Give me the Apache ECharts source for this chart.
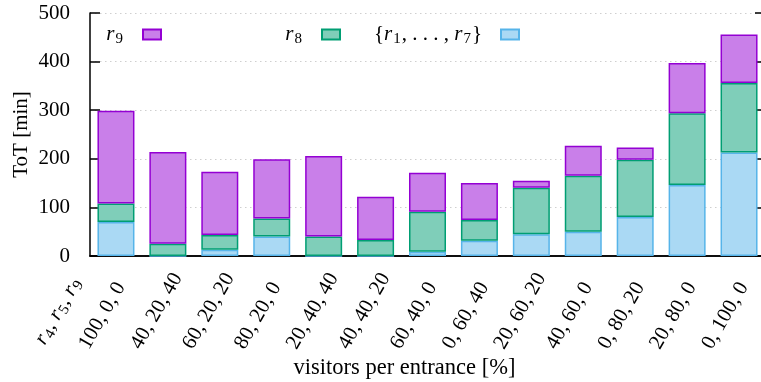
<!DOCTYPE html>
<html>
<head>
<meta charset="utf-8">
<script src="https://cdn.jsdelivr.net/npm/echarts@6/dist/echarts.min.js"></script>
<style>
  html, body { margin: 0; padding: 0; background: #fff; }
  #chart { width: 761px; height: 382px; }
</style>
</head>
<body>
<div id="chart"></div>
<script>
// Share of visitors per entrance (r4, r5, r9), in percent
const categories = [
  '100, 0, 0', '40, 20, 40', '60, 20, 20', '80, 20, 0', '20, 40, 40',
  '40, 40, 20', '60, 40, 0', '0, 60, 40', '20, 60, 20', '40, 60, 0',
  '0, 80, 20', '20, 80, 0', '0, 100, 0'
];

// Time on task [min] contributed by each group of rooms (stacked)
const r1to7 = [70, 0, 13, 40, 0, 0, 9, 31.5, 45, 50, 80, 146, 213];
const r8    = [38, 25, 30, 37, 40, 33, 82, 42.5, 95.5, 115, 118, 147.5, 143];
const r9    = [191, 189, 130.5, 122, 166, 89, 80.5, 76, 14.5, 62, 25, 103.5, 100];

const yMin = 0, yMax = 500, yStep = 100;

const SERIF = '"Liberation Serif", "DejaVu Serif", serif';

const richMath = {
  it:  { fontFamily: SERIF, fontStyle: 'italic', fontSize: 21, color: '#000' },
  n:   { fontFamily: SERIF, fontSize: 21, color: '#000' },
  sub: { fontFamily: SERIF, fontSize: 15, color: '#000', padding: [9, 1, 0, 1] },
  gap: { width: 14 }
};

// closing brace is left as plain text: it takes the base text style
const legendText = {
  'r9': '{it|r}{sub|9}{gap|}',
  'r8': '{it|r}{sub|8}{gap|}',
  'r1-7': '{n|\{}{it|r}{sub|1}{n|, . . . , }{it|r}{sub|7}}{gap|}'
};

const palette = {
  r9:   { fill: '#c97fe9', stroke: '#9400d3' },
  r8:   { fill: '#7fceb9', stroke: '#009e73' },
  r1to7:{ fill: '#aad9f4', stroke: '#56b4e9' }
};

function legendAt(name, rightEdge) {
  return {
    data: [name],
    orient: 'horizontal',
    align: 'right',
    right: 761 - rightEdge,
    top: 24,
    padding: 0,
    itemWidth: 18,
    itemHeight: 10,
    icon: 'rect',
    selectedMode: false,
    formatter: n => legendText[n],
    textStyle: { fontFamily: SERIF, fontSize: 21, color: '#000', rich: richMath }
  };
}

function barSeries(name, data, colors) {
  return {
    name: name,
    type: 'bar',
    stack: 'tot',
    data: data,
    barWidth: 37,
    itemStyle: { color: colors.fill, borderColor: colors.stroke, borderWidth: 1.5 },
    emphasis: { disabled: true }
  };
}

const chart = echarts.init(document.getElementById('chart'), null, { renderer: 'canvas' });

chart.setOption({
  animation: false,
  backgroundColor: '#fff',
  grid: { left: 90, top: 13, width: 675, height: 243, containLabel: false, outerBoundsMode: 'none' },
  legend: [
    legendAt('r9', 162),
    legendAt('r8', 341),
    legendAt('r1-7', 520)
  ],
  xAxis: [{
    type: 'category',
    data: categories,
    position: 'bottom',
    boundaryGap: true,
    axisLine: { show: true, lineStyle: { color: '#000', width: 1.5 } },
    axisTick: { show: false },
    axisLabel: {
      interval: 0,
      rotate: 60,
      align: 'left',
      verticalAlign: 'middle',
      margin: 110,
      lineHeight: 74,
      // an empty second line lifts each label off its anchor
      formatter: v => v + '\n',
      fontFamily: SERIF,
      fontSize: 21,
      color: '#000'
    },
    name: 'visitors per entrance [%]',
    nameLocation: 'middle',
    nameGap: 101,
    nameMoveOverlap: false,
    nameTextStyle: { fontFamily: SERIF, fontSize: 22.5, color: '#000', padding: [0, 46, 0, 0] },
    splitLine: { show: false }
  }, {
    type: 'category',
    data: categories,
    position: 'top',
    axisLine: { show: true, lineStyle: { color: '#000', width: 1.5 } },
    axisTick: { show: false },
    axisLabel: { show: false }
  }],
  yAxis: [{
    type: 'value',
    min: yMin,
    max: yMax,
    interval: yStep,
    position: 'left',
    axisLine: { show: true, lineStyle: { color: '#000', width: 1.5 } },
    axisTick: { show: true, inside: true, length: 10, lineStyle: { color: '#000', width: 1.5 } },
    axisLabel: { margin: 20, fontFamily: SERIF, fontSize: 21, color: '#000' },
    splitLine: { show: true, lineStyle: { color: '#cfcfcf', width: 1, type: [1.5, 3.5] } },
    name: 'ToT [min]',
    nameLocation: 'middle',
    nameGap: 58,
    nameRotate: 90,
    nameMoveOverlap: false,
    nameTextStyle: { fontFamily: SERIF, fontSize: 21, color: '#000' }
  }, {
    type: 'value',
    min: yMin,
    max: yMax,
    interval: yStep,
    position: 'right',
    axisLine: { show: true, lineStyle: { color: '#000', width: 1.5 } },
    axisTick: { show: true, inside: true, length: 10, lineStyle: { color: '#000', width: 1.5 } },
    axisLabel: { show: false },
    splitLine: { show: false }
  }],
  graphic: [{
    type: 'text',
    x: 40,
    y: 343,
    rotation: Math.PI / 3,
    style: {
      text: '{it|r}{sub|4}{n|, }{it|r}{sub|5}{n|, }{it|r}{sub|9}',
      rich: richMath,
      align: 'left',
      verticalAlign: 'middle'
    }
  }],
  series: [
    barSeries('r1-7', r1to7, palette.r1to7),
    barSeries('r8', r8, palette.r8),
    barSeries('r9', r9, palette.r9)
  ]
});
</script>
</body>
</html>
